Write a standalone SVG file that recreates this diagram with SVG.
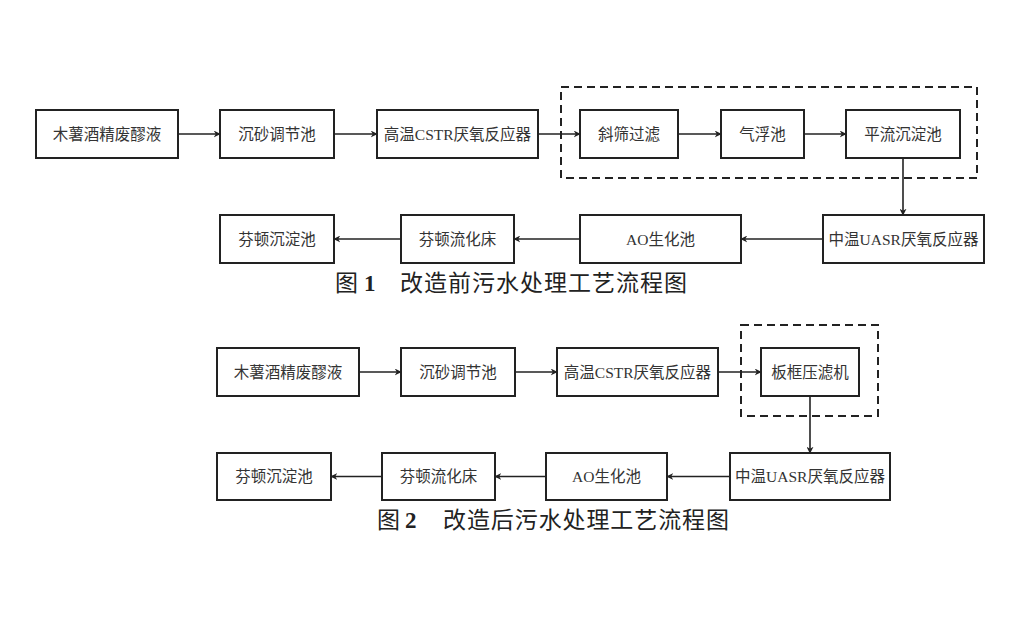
<svg xmlns="http://www.w3.org/2000/svg" width="1024" height="625" viewBox="0 0 1024 625">
<style>
.box{fill:#fff;stroke:#222;stroke-width:2}
.dash{fill:none;stroke:#222;stroke-width:2;stroke-dasharray:8 5}
.t{font-family:"Liberation Serif","Noto Sans CJK SC",serif;font-size:15.5px;fill:#333;text-anchor:middle;dominant-baseline:central}
.cap{font-family:"Liberation Serif","Noto Sans CJK SC",serif;font-size:23px;fill:#222}
.c{stroke:#222;stroke-width:1.6;fill:none;marker-end:url(#ah)}
</style>
<defs>
<marker id="ah" viewBox="0 0 10 10" refX="9" refY="5" markerWidth="7" markerHeight="7" markerUnits="userSpaceOnUse" orient="auto"><path d="M0,0 L10,5 L0,10 L3,5 Z" fill="#222"/></marker>
</defs>
<rect width="1024" height="625" fill="#fff"/>

<!-- Figure 1 -->
<rect class="dash" x="561" y="87" width="416" height="91"/>
<g id="f1n1"><rect class="box" x="36" y="110" width="142" height="48"/><text class="t" x="107" y="134">木薯酒精废醪液</text></g>
<g id="f1n2"><rect class="box" x="220" y="110" width="114" height="48"/><text class="t" x="277" y="134">沉砂调节池</text></g>
<g id="f1n3"><rect class="box" x="377" y="110" width="161" height="48"/><text class="t" x="457.5" y="134">高温CSTR厌氧反应器</text></g>
<g id="f1n4"><rect class="box" x="580" y="110" width="98" height="48"/><text class="t" x="629" y="134">斜筛过滤</text></g>
<g id="f1n5"><rect class="box" x="721" y="110" width="83" height="48"/><text class="t" x="762.5" y="134">气浮池</text></g>
<g id="f1n6"><rect class="box" x="846" y="110" width="114" height="48"/><text class="t" x="903" y="134">平流沉淀池</text></g>
<g id="f1n7"><rect class="box" x="823" y="215" width="161" height="48"/><text class="t" x="903.5" y="239">中温UASR厌氧反应器</text></g>
<g id="f1n8"><rect class="box" x="580" y="215" width="161" height="48"/><text class="t" x="660.5" y="239">AO生化池</text></g>
<g id="f1n9"><rect class="box" x="401" y="215" width="113" height="48"/><text class="t" x="457.5" y="239">芬顿流化床</text></g>
<g id="f1n10"><rect class="box" x="220" y="215" width="114" height="48"/><text class="t" x="277" y="239">芬顿沉淀池</text></g>
<g id="f1edges">
<path class="c" d="M178,134 H220"/>
<path class="c" d="M334,134 H377"/>
<path class="c" d="M538,134 H580"/>
<path class="c" d="M678,134 H721"/>
<path class="c" d="M804,134 H846"/>
<path class="c" d="M903,158 V215"/>
<path class="c" d="M823,239 H741"/>
<path class="c" d="M580,239 H514"/>
<path class="c" d="M401,239 H334"/>
</g>
<text class="cap" x="335" y="291">图</text>
<text class="cap" x="364" y="291" font-weight="bold">1</text>
<text class="cap" x="400" y="291" textLength="287" lengthAdjust="spacing">改造前污水处理工艺流程图</text>

<!-- Figure 2 -->
<rect class="dash" x="741" y="325" width="137" height="91"/>
<g id="f2n1"><rect class="box" x="217" y="348" width="142" height="48"/><text class="t" x="288" y="372">木薯酒精废醪液</text></g>
<g id="f2n2"><rect class="box" x="401" y="348" width="114" height="48"/><text class="t" x="458" y="372">沉砂调节池</text></g>
<g id="f2n3"><rect class="box" x="557" y="348" width="161" height="48"/><text class="t" x="637.5" y="372">高温CSTR厌氧反应器</text></g>
<g id="f2n4"><rect class="box" x="761" y="348" width="98" height="48"/><text class="t" x="810" y="372">板框压滤机</text></g>
<g id="f2n5"><rect class="box" x="730" y="453" width="160" height="47"/><text class="t" x="810" y="476.5">中温UASR厌氧反应器</text></g>
<g id="f2n6"><rect class="box" x="546" y="453" width="121" height="47"/><text class="t" x="606.5" y="476.5">AO生化池</text></g>
<g id="f2n7"><rect class="box" x="382" y="453" width="113" height="47"/><text class="t" x="438.5" y="476.5">芬顿流化床</text></g>
<g id="f2n8"><rect class="box" x="217" y="453" width="114" height="47"/><text class="t" x="274" y="476.5">芬顿沉淀池</text></g>
<g id="f2edges">
<path class="c" d="M359,372 H401"/>
<path class="c" d="M515,372 H557"/>
<path class="c" d="M718,372 H761"/>
<path class="c" d="M810,396 V453"/>
<path class="c" d="M730,476.5 H667"/>
<path class="c" d="M546,476.5 H495"/>
<path class="c" d="M382,476.5 H331"/>
</g>
<text class="cap" x="377" y="528">图</text>
<text class="cap" x="405" y="528" font-weight="bold">2</text>
<text class="cap" x="443" y="528" textLength="286" lengthAdjust="spacing">改造后污水处理工艺流程图</text>
</svg>
